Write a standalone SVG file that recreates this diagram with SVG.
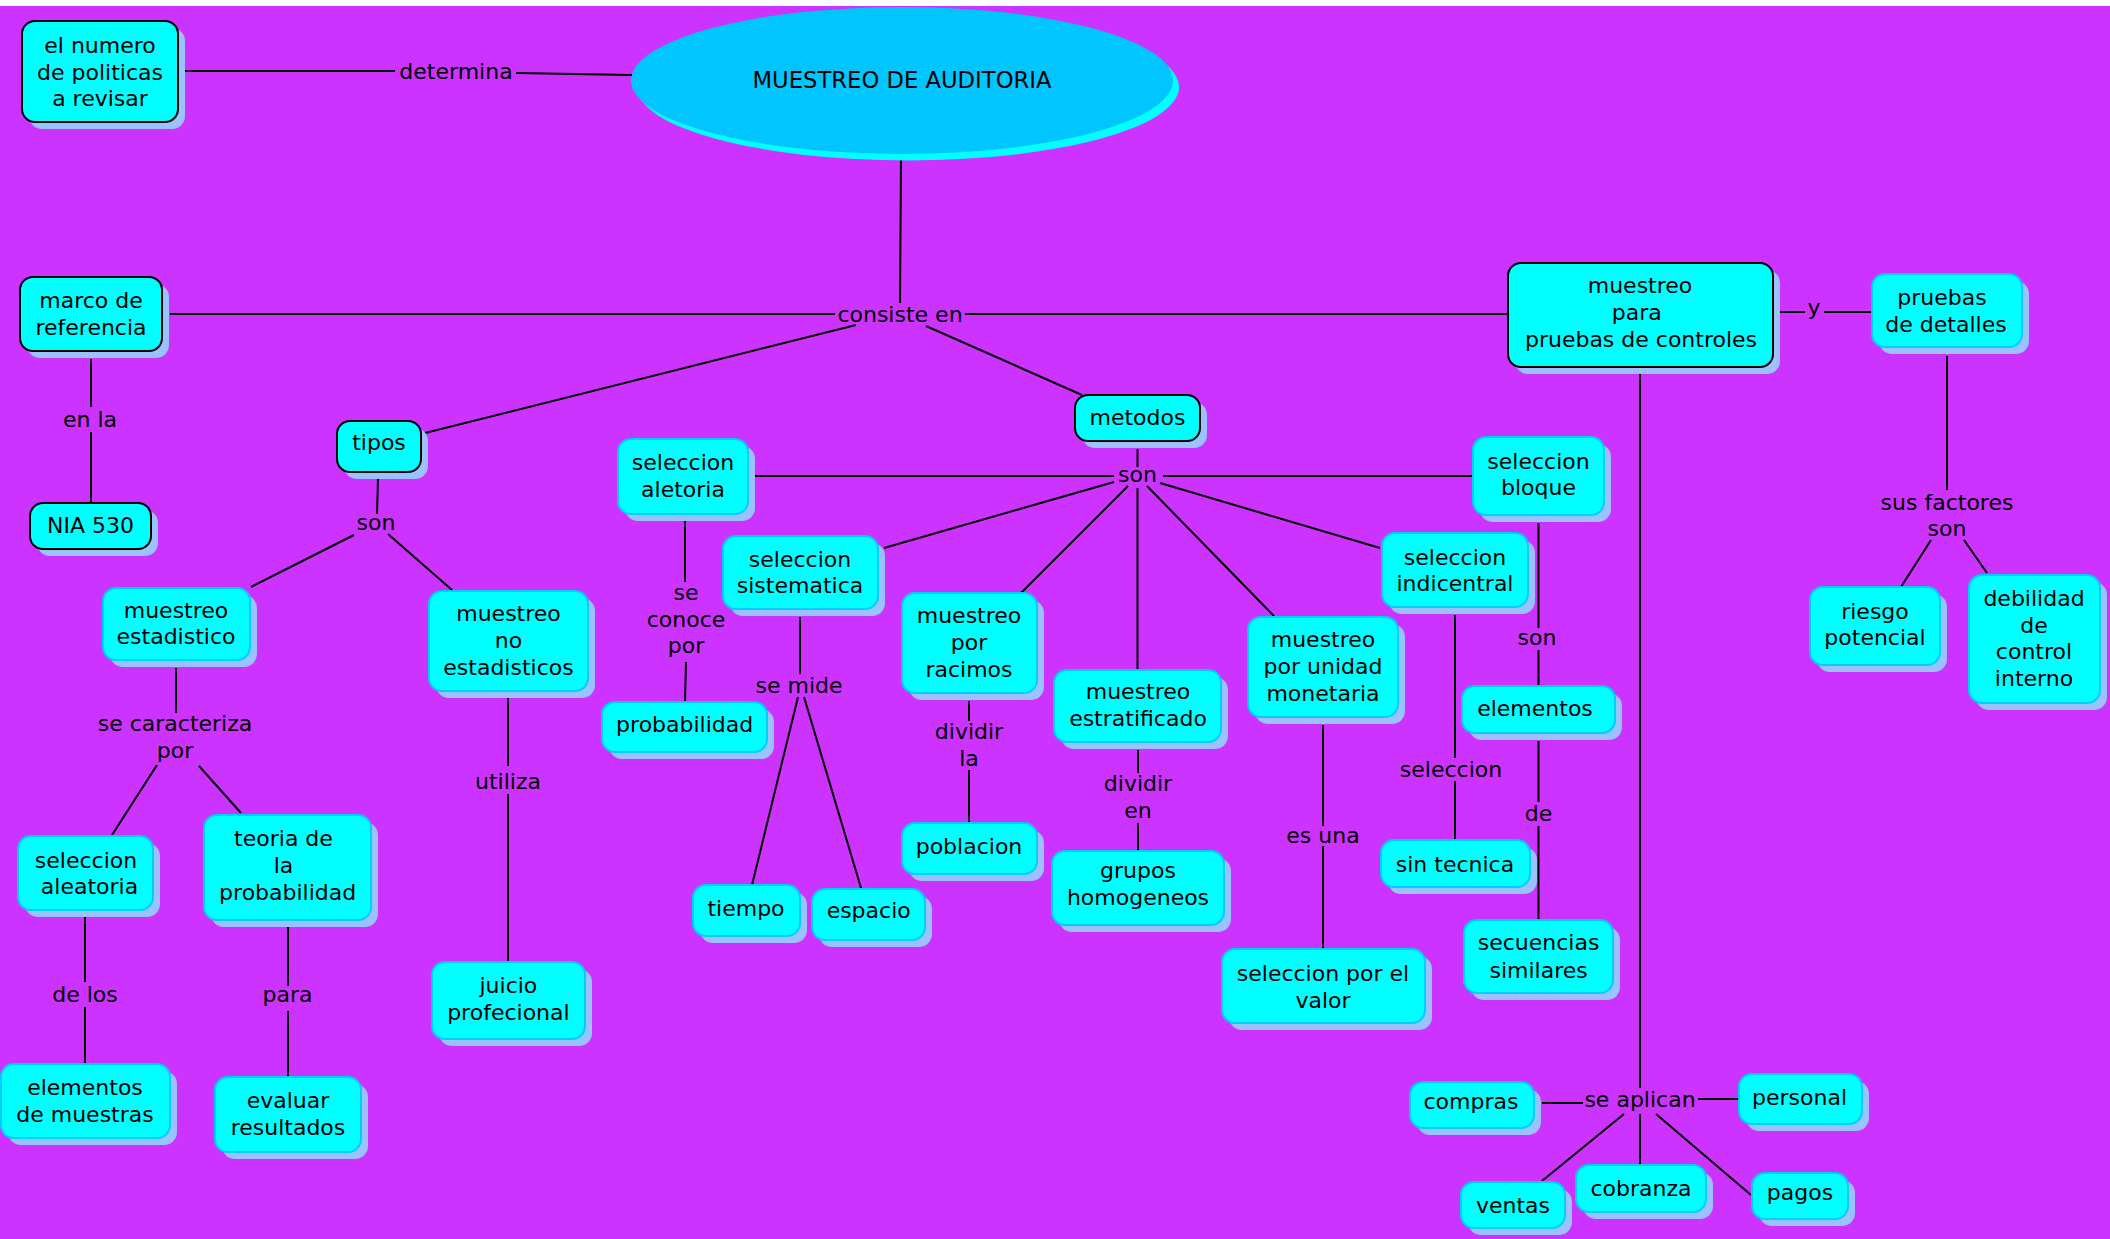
<svg xmlns="http://www.w3.org/2000/svg" width="2110" height="1239" viewBox="0 0 2110 1239">
<style>
text{font-family:"DejaVu Sans",Verdana,sans-serif;font-size:22px;fill:#000;text-anchor:middle}
.sh{fill:#99c2ff}
.bx{fill:#00ffff;stroke:#00ccff;stroke-width:2}
.bk{stroke:#000}
.ln{stroke:#000;stroke-width:2;fill:none}
</style>
<rect x="0" y="0" width="2110" height="1239" fill="#cc33ff"/>
<rect x="0" y="0" width="2110" height="6" fill="#ffffff"/>

<g id="connectors" class="ln">
<path d="M185 71H395M516 73L632 75"/>
<path d="M901 160L900 303"/>
<path d="M170 314H835M965 314H1508"/>
<path d="M856 325L425 433M926 326L1082 395"/>
<path d="M91 359V407M91 432V503"/>
<path d="M378 479L377 514M354 535L251 587M388 534L452 590"/>
<path d="M176 668V713M157 765L112 835M199 766L241 813"/>
<path d="M508 698V766M508 794V962"/>
<path d="M85 917V982M85 1007V1064"/>
<path d="M288 927V986M288 1011V1077"/>
<path d="M1137.5 449V467"/>
<path d="M755 476H1114M1163 476H1473"/>
<path d="M1114 482L884 548M1128 486L1021 593M1137.5 488V669M1147 486L1274 616M1160 483L1380 548"/>
<path d="M685 521V582M686 662L685 702"/>
<path d="M800 617V674M798 697L752 885M804 697L861 888"/>
<path d="M969 701V721M969 770V823"/>
<path d="M1138 750V773M1138 823V851"/>
<path d="M1323 725V826M1323 846V949"/>
<path d="M1455 615V758M1455 781V840"/>
<path d="M1538.5 523V628M1538.5 650V686"/>
<path d="M1538.5 741V802M1538.5 826V920"/>
<path d="M1640 374V1088"/>
<path d="M1780 312H1805M1824 312H1871"/>
<path d="M1947 356V490M1931 540L1901 587M1964 540L1987 573"/>
<path d="M1542 1103H1583M1698 1099H1738M1624 1114L1542 1181M1640 1114V1164M1656 1114L1751 1195"/>
</g>

<g id="linking-phrases">
<text x="456" y="79">determina</text>
<text x="900" y="322">consiste en</text>
<text x="90" y="427">en la</text>
<text x="376" y="530">son</text>
<text x="175" y="731">se caracteriza</text>
<text x="175" y="758">por</text>
<text x="508" y="789">utiliza</text>
<text x="85" y="1002">de los</text>
<text x="287.5" y="1002">para</text>
<text x="1137.5" y="482">son</text>
<text x="686" y="600">se</text>
<text x="686" y="627">conoce</text>
<text x="686" y="653">por</text>
<text x="799" y="693">se mide</text>
<text x="969" y="739">dividir</text>
<text x="969" y="766">la</text>
<text x="1138" y="791">dividir</text>
<text x="1138" y="818">en</text>
<text x="1323" y="843">es una</text>
<text x="1451" y="777">seleccion</text>
<text x="1537" y="645">son</text>
<text x="1538.5" y="821">de</text>
<text x="1814" y="315">y</text>
<text x="1947" y="510">sus factores</text>
<text x="1947" y="536">son</text>
<text x="1640" y="1107">se aplican</text>
</g>

<g id="n_title">
<ellipse cx="908" cy="87" rx="271" ry="73.5" fill="#00ffff"/>
<ellipse cx="902" cy="80.5" rx="271" ry="73.5" fill="#00c5ff"/>
<text x="902" y="88" style="font-size:22.7px">MUESTREO DE AUDITORIA</text>
</g>

<g id="n_numero"><rect class="sh" x="29" y="28" width="156" height="101" rx="13"/><rect class="bx bk" x="22" y="21" width="156" height="101" rx="13"/>
<text x="100" y="53">el numero</text><text x="100" y="80">de politicas</text><text x="100" y="106">a revisar</text></g>

<g id="n_marco"><rect class="sh" x="27" y="284" width="142" height="74" rx="13"/><rect class="bx bk" x="20" y="277" width="142" height="74" rx="13"/>
<text x="91" y="308">marco de</text><text x="91" y="335">referencia</text></g>

<g id="n_nia"><rect class="sh" x="37" y="510" width="121" height="46" rx="13"/><rect class="bx bk" x="30" y="503" width="121" height="46" rx="13"/>
<text x="90.5" y="533">NIA 530</text></g>

<g id="n_tipos"><rect class="sh" x="344" y="428" width="84" height="51" rx="13"/><rect class="bx bk" x="337" y="421" width="84" height="51" rx="13"/>
<text x="379" y="450">tipos</text></g>

<g id="n_estadistico"><rect class="sh" x="110" y="595" width="147" height="72" rx="13"/><rect class="bx" x="103" y="588" width="147" height="72" rx="13"/>
<text x="176" y="618">muestreo</text><text x="176" y="644">estadistico</text></g>

<g id="n_noestadisticos"><rect class="sh" x="436" y="598" width="159" height="100" rx="13"/><rect class="bx" x="429" y="591" width="159" height="100" rx="13"/>
<text x="508.5" y="621">muestreo</text><text x="508.5" y="648">no</text><text x="508.5" y="675">estadisticos</text></g>

<g id="n_seleccion_aleatoria"><rect class="sh" x="25" y="843" width="135" height="74" rx="13"/><rect class="bx" x="18" y="836" width="135" height="74" rx="13"/>
<text x="86" y="868">seleccion</text><text x="89.5" y="894">aleatoria</text></g>

<g id="n_elementos_muestras"><rect class="sh" x="8" y="1071" width="169" height="74" rx="13"/><rect class="bx" x="1" y="1064" width="169" height="74" rx="13"/>
<text x="85" y="1095">elementos</text><text x="85" y="1122">de muestras</text></g>

<g id="n_teoria"><rect class="sh" x="211" y="822" width="167" height="105" rx="13"/><rect class="bx" x="204" y="815" width="167" height="105" rx="13"/>
<text x="283.5" y="846">teoria de</text><text x="283.5" y="873">la</text><text x="287.7" y="900">probabilidad</text></g>

<g id="n_evaluar"><rect class="sh" x="222" y="1084" width="146" height="75" rx="13"/><rect class="bx" x="215" y="1077" width="146" height="75" rx="13"/>
<text x="288" y="1108">evaluar</text><text x="288" y="1135">resultados</text></g>

<g id="n_juicio"><rect class="sh" x="439" y="969" width="153" height="77" rx="13"/><rect class="bx" x="432" y="962" width="153" height="77" rx="13"/>
<text x="508.4" y="993">juicio</text><text x="508.4" y="1020">profecional</text></g>

<g id="n_metodos"><rect class="sh" x="1082" y="402" width="125" height="46" rx="13"/><rect class="bx bk" x="1075" y="395" width="125" height="46" rx="13"/>
<text x="1137.5" y="425">metodos</text></g>

<g id="n_seleccion_aletoria"><rect class="sh" x="625" y="446" width="130" height="75" rx="13"/><rect class="bx" x="618" y="439" width="130" height="75" rx="13"/>
<text x="683" y="470">seleccion</text><text x="683" y="497">aletoria</text></g>

<g id="n_probabilidad"><rect class="sh" x="609" y="709" width="165" height="50" rx="13"/><rect class="bx" x="602" y="702" width="165" height="50" rx="13"/>
<text x="684.7" y="732">probabilidad</text></g>

<g id="n_sistematica"><rect class="sh" x="730" y="543" width="155" height="73" rx="13"/><rect class="bx" x="723" y="536" width="155" height="73" rx="13"/>
<text x="800" y="567">seleccion</text><text x="800" y="593">sistematica</text></g>

<g id="n_tiempo"><rect class="sh" x="700" y="892" width="107" height="51" rx="13"/><rect class="bx" x="693" y="885" width="107" height="51" rx="13"/>
<text x="746" y="916">tiempo</text></g>

<g id="n_espacio"><rect class="sh" x="819" y="896" width="113" height="51" rx="13"/><rect class="bx" x="812" y="889" width="113" height="51" rx="13"/>
<text x="868.7" y="918">espacio</text></g>

<g id="n_racimos"><rect class="sh" x="909" y="600" width="135" height="100" rx="13"/><rect class="bx" x="902" y="593" width="135" height="100" rx="13"/>
<text x="969" y="623">muestreo</text><text x="969" y="650">por</text><text x="969" y="677">racimos</text></g>

<g id="n_poblacion"><rect class="sh" x="909" y="830" width="135" height="51" rx="13"/><rect class="bx" x="902" y="823" width="135" height="51" rx="13"/>
<text x="969" y="854">poblacion</text></g>

<g id="n_estratificado"><rect class="sh" x="1061" y="677" width="167" height="72" rx="13"/><rect class="bx" x="1054" y="670" width="167" height="72" rx="13"/>
<text x="1138" y="699">muestreo</text><text x="1138" y="726">estratificado</text></g>

<g id="n_grupos"><rect class="sh" x="1059" y="858" width="172" height="74" rx="13"/><rect class="bx" x="1052" y="851" width="172" height="74" rx="13"/>
<text x="1138" y="878">grupos</text><text x="1138" y="905">homogeneos</text></g>

<g id="n_unidad"><rect class="sh" x="1255" y="624" width="150" height="100" rx="13"/><rect class="bx" x="1248" y="617" width="150" height="100" rx="13"/>
<text x="1323" y="647">muestreo</text><text x="1323" y="674">por unidad</text><text x="1323" y="701">monetaria</text></g>

<g id="n_valor"><rect class="sh" x="1229" y="956" width="203" height="74" rx="13"/><rect class="bx" x="1222" y="949" width="203" height="74" rx="13"/>
<text x="1323" y="981">seleccion por el</text><text x="1323" y="1008">valor</text></g>

<g id="n_bloque"><rect class="sh" x="1480" y="444" width="131" height="78" rx="13"/><rect class="bx" x="1473" y="437" width="131" height="78" rx="13"/>
<text x="1538.5" y="469">seleccion</text><text x="1538.5" y="495">bloque</text></g>

<g id="n_indicentral"><rect class="sh" x="1389" y="540" width="146" height="74" rx="13"/><rect class="bx" x="1382" y="533" width="146" height="74" rx="13"/>
<text x="1455" y="565">seleccion</text><text x="1455" y="591">indicentral</text></g>

<g id="n_elementos"><rect class="sh" x="1469" y="693" width="153" height="47" rx="13"/><rect class="bx" x="1462" y="686" width="153" height="47" rx="13"/>
<text x="1535" y="716">elementos</text></g>

<g id="n_sintecnica"><rect class="sh" x="1388" y="847" width="149" height="47" rx="13"/><rect class="bx" x="1381" y="840" width="149" height="47" rx="13"/>
<text x="1455" y="872">sin tecnica</text></g>

<g id="n_secuencias"><rect class="sh" x="1471" y="927" width="149" height="73" rx="13"/><rect class="bx" x="1464" y="920" width="149" height="73" rx="13"/>
<text x="1538.6" y="950">secuencias</text><text x="1538.6" y="978">similares</text></g>

<g id="n_pruebas_controles"><rect class="sh" x="1515" y="270" width="265" height="104" rx="13"/><rect class="bx bk" x="1508" y="263" width="265" height="104" rx="13"/>
<text x="1640" y="293">muestreo</text><text x="1636.7" y="320">para</text><text x="1641" y="347">pruebas de controles</text></g>

<g id="n_detalles"><rect class="sh" x="1879" y="281" width="150" height="73" rx="13"/><rect class="bx" x="1872" y="274" width="150" height="73" rx="13"/>
<text x="1942" y="305">pruebas</text><text x="1946" y="332">de detalles</text></g>

<g id="n_riesgo"><rect class="sh" x="1817" y="594" width="130" height="78" rx="13"/><rect class="bx" x="1810" y="587" width="130" height="78" rx="13"/>
<text x="1875" y="619">riesgo</text><text x="1875" y="645">potencial</text></g>

<g id="n_debilidad"><rect class="sh" x="1976" y="582" width="131" height="128" rx="13"/><rect class="bx" x="1969" y="575" width="131" height="128" rx="13"/>
<text x="2034" y="606">debilidad</text><text x="2034" y="633">de</text><text x="2034" y="659">control</text><text x="2034" y="686">interno</text></g>

<g id="n_compras"><rect class="sh" x="1417" y="1089" width="124" height="46" rx="13"/><rect class="bx" x="1410" y="1082" width="124" height="46" rx="13"/>
<text x="1471" y="1109">compras</text></g>

<g id="n_personal"><rect class="sh" x="1746" y="1081" width="123" height="50" rx="13"/><rect class="bx" x="1739" y="1074" width="123" height="50" rx="13"/>
<text x="1799.5" y="1105">personal</text></g>

<g id="n_ventas"><rect class="sh" x="1468" y="1189" width="104" height="46" rx="13"/><rect class="bx" x="1461" y="1182" width="104" height="46" rx="13"/>
<text x="1513" y="1213">ventas</text></g>

<g id="n_cobranza"><rect class="sh" x="1583" y="1172" width="130" height="47" rx="13"/><rect class="bx" x="1576" y="1165" width="130" height="47" rx="13"/>
<text x="1641" y="1196">cobranza</text></g>

<g id="n_pagos"><rect class="sh" x="1759" y="1180" width="96" height="46" rx="13"/><rect class="bx" x="1752" y="1173" width="96" height="46" rx="13"/>
<text x="1800" y="1200">pagos</text></g>
</svg>
